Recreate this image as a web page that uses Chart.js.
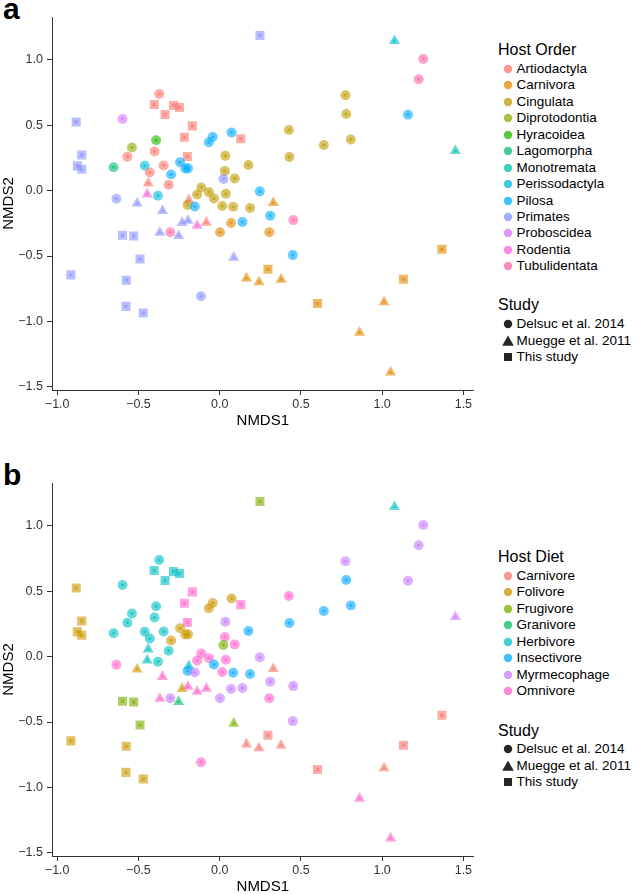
<!DOCTYPE html>
<html>
<head>
<meta charset="utf-8">
<script src="https://cdn.jsdelivr.net/npm/chart.js@4.4.0/dist/chart.umd.min.js"></script>
<style>
    body { margin: 0; background: #fff; font-family: 'Liberation Sans', Arial, sans-serif; }
    #page { position: relative; width: 633px; height: 894px; overflow: hidden; }
    #page canvas { position: absolute; left: 0; }
    .tag { position: absolute; left: 3px; font-size: 30px; line-height: 30px; font-weight: bold; color: #000; }
    .lg-title { position: absolute; left: 498px; font-size: 16px; line-height: 18px; color: #000; white-space: nowrap; }
    .lg-text { position: absolute; left: 516.5px; font-size: 13.5px; line-height: 16px; color: #000; white-space: nowrap; }
    .lg-key { position: absolute; left: 500.5px; width: 14px; height: 14px; }
</style>
</head>
<body>
<div id="page">
    <div class="tag" style="top:-6px">a</div>
    <canvas id="chartOrder" width="480" height="440" style="top:0"></canvas>
    <div class="tag" style="top:460px">b</div>
    <canvas id="chartDiet" width="480" height="440" style="top:466px"></canvas>
</div>
<script>
(function() {
    'use strict';

    var orderLevels = ['Artiodactyla', 'Carnivora', 'Cingulata', 'Diprotodontia', 'Hyracoidea', 'Lagomorpha',
        'Monotremata', 'Perissodactyla', 'Pilosa', 'Primates', 'Proboscidea', 'Rodentia', 'Tubulidentata'];
    var orderColors = ['#F8766D', '#E18A00', '#BE9C00', '#8CAB00', '#24B700', '#00BE70', '#00C1AB',
        '#00BBDA', '#00ACFC', '#8B93FF', '#D575FE', '#F962DD', '#FF65AC'];

    var dietLevels = ['Carnivore', 'Folivore', 'Frugivore', 'Granivore', 'Herbivore', 'Insectivore', 'Myrmecophage', 'Omnivore'];
    var dietColors = ['#F8766D', '#CD9600', '#7CAE00', '#00BE67', '#00BFC4', '#00A9FF', '#C77CFF', '#FF61CC'];

    var studyLevels = ['Delsuc et al. 2014', 'Muegge et al. 2011', 'This study'];
    var studyShapes = ['circle', 'triangle', 'rect'];

    var xTicks = [-1.0, -0.5, 0.0, 0.5, 1.0, 1.5];
    var yTicks = [-1.5, -1.0, -0.5, 0.0, 0.5, 1.0];

    // one entry per sample, same order in every array
    var nmds1 = [
        -0.372, -0.598, -0.540, -0.391, -0.401, -0.568, -0.653, -0.461, -0.345, -0.430,
        -0.314, -0.380, -0.244, -0.211, -0.195, -0.299, -0.067, -0.043, 0.073, 0.035,
        0.032, 0.093, 0.177, 0.426, 0.429, -0.113, -0.139, -0.066, -0.035, 0.038,
        0.016, 0.083, 0.187, -0.197, 0.774, 0.779, 0.641, 0.807, 0.023, -0.636,
        -0.115, 0.247, 0.311, 0.140, -0.153, 0.450, 1.159, 0.453, -0.304, 1.253,
        1.225, 0.002, 0.070, 0.305,
        1.076, 1.451, -0.440, -0.446, -0.190, -0.082, -0.139, -0.508, -0.352, -0.231,
        -0.195, -0.368, -0.253, 0.087, 0.330, 0.165, 0.242, 0.378, 1.012, 0.861, 1.052,
        0.248, -0.883, -0.849, -0.876, -0.849, -0.403, -0.336, -0.284, -0.247, -0.168,
        -0.217, -0.199, 0.130, -0.598, -0.529, -0.490, -0.916, -0.575, -0.577, -0.470,
        0.297, 0.602, 1.131, 1.368
    ];
    var nmds2 = [
        0.740, 0.548, 0.330, 0.386, 0.300, 0.260, 0.179, 0.191, 0.193, 0.139,
        0.045, -0.038, 0.217, 0.170, 0.171, 0.124, 0.370, 0.411, 0.445, 0.267,
        0.151, 0.094, 0.197, 0.464, 0.258, 0.025, -0.029, -0.011, -0.060, -0.024,
        -0.117, -0.123, -0.133, -0.110, 0.730, 0.587, 0.350, 0.392, 0.089, -0.062,
        -0.807, -0.005, -0.191, -0.240, -0.121, -0.493, 0.581, -0.225, -0.318, 1.008,
        0.853, -0.318, -0.247, -0.318,
        1.146, 0.305, 0.057, -0.027, -0.071, -0.243, -0.267, -0.097, -0.153, -0.245,
        -0.229, -0.321, -0.345, -0.511, -0.093, -0.670, -0.699, -0.679, -0.852, -1.085, -1.390,
        1.187, 0.526, 0.273, 0.190, 0.164, 0.659, 0.583, 0.652, 0.636, 0.496,
        0.409, 0.262, 0.397, -0.341, -0.347, -0.523, -0.644, -0.685, -0.885, -0.936,
        -0.601, -0.863, -0.677, -0.448
    ];
    var hostOrder = [
        'Artiodactyla', 'Proboscidea', 'Diprotodontia', 'Hyracoidea', 'Artiodactyla', 'Artiodactyla', 'Lagomorpha', 'Perissodactyla', 'Artiodactyla', 'Artiodactyla',
        'Artiodactyla', 'Perissodactyla', 'Pilosa', 'Pilosa', 'Pilosa', 'Pilosa', 'Pilosa', 'Pilosa', 'Pilosa', 'Cingulata',
        'Cingulata', 'Cingulata', 'Cingulata', 'Cingulata', 'Cingulata', 'Cingulata', 'Cingulata', 'Cingulata', 'Cingulata', 'Cingulata',
        'Cingulata', 'Cingulata', 'Cingulata', 'Cingulata', 'Cingulata', 'Cingulata', 'Cingulata', 'Cingulata', 'Primates', 'Primates',
        'Primates', 'Pilosa', 'Pilosa', 'Pilosa', 'Pilosa', 'Pilosa', 'Pilosa', 'Tubulidentata', 'Tubulidentata', 'Tubulidentata',
        'Tubulidentata', 'Carnivora', 'Carnivora', 'Carnivora',
        'Perissodactyla', 'Monotremata', 'Artiodactyla', 'Rodentia', 'Artiodactyla', 'Artiodactyla', 'Rodentia', 'Primates', 'Primates', 'Primates',
        'Primates', 'Primates', 'Primates', 'Primates', 'Carnivora', 'Carnivora', 'Carnivora', 'Carnivora', 'Carnivora', 'Carnivora', 'Carnivora',
        'Primates', 'Primates', 'Primates', 'Primates', 'Primates', 'Artiodactyla', 'Artiodactyla', 'Artiodactyla', 'Artiodactyla', 'Artiodactyla',
        'Artiodactyla', 'Artiodactyla', 'Artiodactyla', 'Primates', 'Primates', 'Primates', 'Primates', 'Primates', 'Primates', 'Primates',
        'Carnivora', 'Carnivora', 'Carnivora', 'Carnivora'
    ];
    var hostDiet = [
        'Herbivore', 'Herbivore', 'Herbivore', 'Herbivore', 'Herbivore', 'Herbivore', 'Herbivore', 'Herbivore', 'Herbivore', 'Herbivore',
        'Herbivore', 'Herbivore', 'Folivore', 'Folivore', 'Folivore', 'Folivore', 'Folivore', 'Folivore', 'Folivore', 'Myrmecophage',
        'Omnivore', 'Omnivore', 'Insectivore', 'Omnivore', 'Insectivore', 'Omnivore', 'Omnivore', 'Omnivore', 'Insectivore', 'Omnivore',
        'Omnivore', 'Insectivore', 'Insectivore', 'Insectivore', 'Myrmecophage', 'Insectivore', 'Insectivore', 'Insectivore', 'Frugivore', 'Omnivore',
        'Omnivore', 'Myrmecophage', 'Myrmecophage', 'Myrmecophage', 'Myrmecophage', 'Myrmecophage', 'Myrmecophage', 'Myrmecophage', 'Myrmecophage', 'Myrmecophage',
        'Myrmecophage', 'Myrmecophage', 'Myrmecophage', 'Omnivore',
        'Herbivore', 'Myrmecophage', 'Herbivore', 'Herbivore', 'Herbivore', 'Omnivore', 'Omnivore', 'Folivore', 'Omnivore', 'Folivore',
        'Omnivore', 'Omnivore', 'Granivore', 'Frugivore', 'Carnivore', 'Carnivore', 'Carnivore', 'Carnivore', 'Carnivore', 'Omnivore', 'Omnivore',
        'Frugivore', 'Folivore', 'Folivore', 'Folivore', 'Folivore', 'Herbivore', 'Herbivore', 'Herbivore', 'Herbivore', 'Omnivore',
        'Omnivore', 'Omnivore', 'Omnivore', 'Frugivore', 'Frugivore', 'Frugivore', 'Folivore', 'Folivore', 'Folivore', 'Folivore',
        'Carnivore', 'Carnivore', 'Carnivore', 'Carnivore'
    ];
    var study = [];
    for (var k = 0; k < 54; k++) study.push('Delsuc et al. 2014');
    for (k = 0; k < 21; k++) study.push('Muegge et al. 2011');
    for (k = 0; k < 24; k++) study.push('This study');

    var outerRadius = { circle: 5, triangle: 6.4, rect: 6.4 };
    var innerRadius = { circle: 1.8, triangle: 2.6, rect: 2.4 };
    var fontFamily = "'Liberation Sans', Arial, sans-serif";

    Chart.defaults.font.family = fontFamily;

    function hexToRgba(hex, alpha) {
        var n = parseInt(hex.slice(1), 16);
        return 'rgba(' + ((n >> 16) & 255) + ',' + ((n >> 8) & 255) + ',' + (n & 255) + ',' + alpha + ')';
    }

    function formatTick(value) {
        return Number(value).toFixed(1).replace('-', '\u2212');
    }

    function buildDatasets(groups, levels, colors) {
        var sets = [];
        // inner dots first: Chart.js paints the first dataset on top
        ['inner', 'outer'].forEach(function(layer) {
            studyLevels.forEach(function(s, si) {
                var shape = studyShapes[si];
                var pts = [];
                var cols = [];
                for (var i = 0; i < nmds1.length; i++) {
                    if (study[i] !== s) continue;
                    pts.push({ x: nmds1[i], y: nmds2[i] });
                    cols.push(hexToRgba(colors[levels.indexOf(groups[i])], 0.6));
                }
                sets.push({
                    label: s + ' ' + layer,
                    data: pts,
                    showLine: false,
                    pointStyle: shape,
                    pointRadius: layer === 'inner' ? innerRadius[shape] : outerRadius[shape],
                    pointBackgroundColor: cols,
                    pointBorderColor: 'rgba(0,0,0,0)',
                    pointBorderWidth: 0
                });
            });
        });
        return sets;
    }

    function axis(ticks, min, max, title, horizontal) {
        return {
            type: 'linear',
            min: min,
            max: max,
            afterBuildTicks: function(scale) {
                scale.ticks = ticks.map(function(v) { return { value: v }; });
            },
            afterFit: function(scale) {
                if (horizontal) scale.height = 50;
                else scale.width = 52;
            },
            ticks: {
                autoSkip: false,
                maxRotation: 0,
                padding: horizontal ? 2 : 4,
                color: '#333',
                font: { size: 12.5 },
                callback: formatTick
            },
            grid: { drawOnChartArea: false, drawTicks: true, tickLength: 5, color: '#333', lineWidth: 1 },
            border: { display: true, color: '#333', width: 1 },
            title: {
                display: true,
                text: title,
                color: '#000',
                font: { size: 15 },
                padding: horizontal ? { top: 4, bottom: 10 } : { top: 0, bottom: 0 }
            }
        };
    }

    function initChart(canvasId, groups, levels, colors) {
        var canvas = document.getElementById(canvasId);
        new Chart(canvas.getContext('2d'), {
            type: 'scatter',
            data: { datasets: buildDatasets(groups, levels, colors) },
            options: {
                responsive: false,
                animation: false,
                devicePixelRatio: 1,
                events: [],
                layout: { padding: { top: 17, right: 3, bottom: 0, left: 0 } },
                plugins: { legend: { display: false }, tooltip: { enabled: false } },
                scales: {
                    x: axis(xTicks, -1.032, 1.563, 'NMDS1', true),
                    y: axis(yTicks, -1.525, 1.329, 'NMDS2', false)
                }
            }
        });
    }

    function markerSvg(shape, fill) {
        var s = '<svg width="14" height="14" viewBox="0 0 14 14">';
        if (shape === 'circle') s += '<circle cx="7" cy="7" r="4.2" fill="' + fill + '"/>';
        else if (shape === 'triangle') s += '<polygon points="7,1.6 12.8,11.8 1.2,11.8" fill="' + fill + '"/>';
        else s += '<rect x="3" y="3" width="8" height="8" fill="' + fill + '"/>';
        return s + '</svg>';
    }

    function addLegend(title, titleCenter, labels, keys, firstCenter) {
        var page = document.getElementById('page');
        var t = document.createElement('div');
        t.className = 'lg-title';
        t.style.top = (titleCenter - 9) + 'px';
        t.textContent = title;
        page.appendChild(t);
        labels.forEach(function(label, i) {
            var c = firstCenter + i * 16.44;
            var key = document.createElement('div');
            key.className = 'lg-key';
            key.style.top = (c - 7) + 'px';
            key.innerHTML = keys[i];
            page.appendChild(key);
            var txt = document.createElement('div');
            txt.className = 'lg-text';
            txt.style.top = (c - 8) + 'px';
            txt.textContent = label;
            page.appendChild(txt);
        });
    }

    function colorKeys(colors) {
        return colors.map(function(c) { return markerSvg('circle', hexToRgba(c, 0.75)); });
    }

    function studyKeys() {
        return studyShapes.map(function(s) { return markerSvg(s, 'rgba(0,0,0,0.85)'); });
    }

    document.addEventListener('DOMContentLoaded', function() {
        initChart('chartOrder', hostOrder, orderLevels, orderColors);
        initChart('chartDiet', hostDiet, dietLevels, dietColors);

        addLegend('Host Order', 50, orderLevels, colorKeys(orderColors), 69);
        addLegend('Study', 305, studyLevels, studyKeys(), 324.3);
        addLegend('Host Diet', 556.7, dietLevels, colorKeys(dietColors), 576);
        addLegend('Study', 730.7, studyLevels, studyKeys(), 749.3);
    });
})();
</script>
</body>
</html>
